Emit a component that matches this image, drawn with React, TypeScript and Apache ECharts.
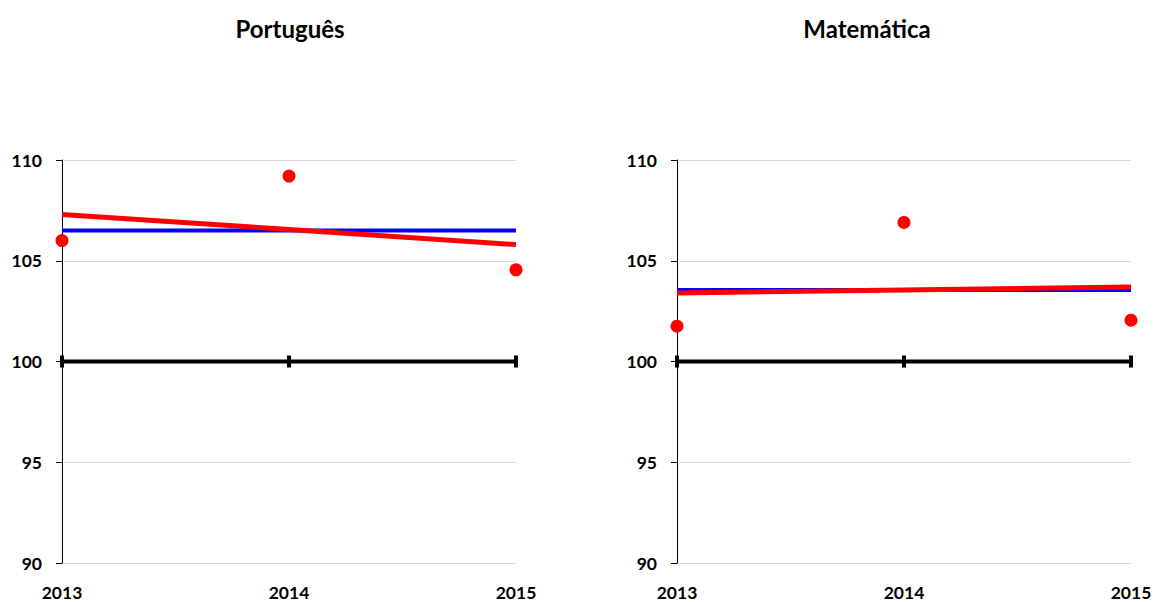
import React, { useEffect, useRef } from "react";
import * as echarts from "echarts";

const years = ["2013", "2014", "2015"];
const yTicks = [90, 95, 100, 105, 110];
const portValues = [106.0, 109.2, 104.55];
const portMean = [106.5, 106.5, 106.5];
const portTrend = [107.3, 106.55, 105.8];
const matValues = [101.75, 106.9, 102.05];
const matMean = [103.55, 103.55, 103.55];
const matTrend = [103.4, 103.55, 103.7];
const baseline = [100, 100, 100];
const titles = ["Português", "Matemática"];

const FONT = "Lato, 'Open Sans', sans-serif";

export default function App() {
  const ref = useRef<HTMLDivElement>(null);
  useEffect(() => {
    if (!ref.current) return;
    const chart = echarts.init(ref.current, null, { renderer: "svg" });
    const grids = [
      { left: 62, width: 454, top: 160, bottom: 39 },
      { left: 677, width: 454, top: 160, bottom: 39 },
    ];
    const xAxis = grids.map((_, i) => ({
      type: "category" as const,
      gridIndex: i,
      data: years,
      boundaryGap: false,
      axisLine: { show: false },
      axisTick: { show: false },
      axisLabel: { color: "#000", fontFamily: FONT, fontWeight: "bold", fontSize: 17.5, margin: 20 },
      splitLine: { show: false },
    }));
    const yAxis = grids.map((_, i) => ({
      type: "value" as const,
      gridIndex: i,
      min: yTicks[0],
      max: yTicks[yTicks.length - 1],
      interval: 5,
      axisLine: { show: true, lineStyle: { color: "#000", width: 1 } },
      axisTick: { show: true, length: 6, lineStyle: { color: "#000" } },
      axisLabel: { color: "#000", fontFamily: FONT, fontWeight: "bold", fontSize: 17.5, margin: 20 },
      splitLine: { show: true, lineStyle: { color: "#d9d9d9", width: 1 } },
    }));
    const sets = [
      { values: portValues, mean: portMean, trend: portTrend },
      { values: matValues, mean: matMean, trend: matTrend },
    ];
    const series: any[] = [];
    sets.forEach((s, i) => {
      series.push({
        type: "line",
        xAxisIndex: i,
        yAxisIndex: i,
        data: baseline,
        symbol: "rect",
        symbolSize: [4, 12],
        itemStyle: { color: "#000", opacity: 1 },
        lineStyle: { color: "#000", width: 4 },
        clip: false,
        z: 3,
      });
      series.push({
        type: "line",
        xAxisIndex: i,
        yAxisIndex: i,
        data: s.mean,
        showSymbol: false,
        lineStyle: { color: "#0000ff", width: 4 },
        z: 4,
      });
      series.push({
        type: "line",
        xAxisIndex: i,
        yAxisIndex: i,
        data: s.trend,
        showSymbol: false,
        lineStyle: { color: "#ff0000", width: 5 },
        z: 5,
      });
      series.push({
        type: "scatter",
        xAxisIndex: i,
        yAxisIndex: i,
        data: s.values,
        symbol: "circle",
        symbolSize: 13,
        itemStyle: { color: "#ff0000", opacity: 1 },
        clip: false,
        z: 6,
      });
    });
    chart.setOption({
      animation: false,
      backgroundColor: "#fff",
      title: titles.map((t, i) => ({
        text: t,
        left: i === 0 ? 285 : 862,
        top: 11,
        textAlign: "center",
        textStyle: { color: "#000", fontFamily: FONT, fontWeight: "bold", fontSize: 24 },
      })),
      grid: grids,
      xAxis,
      yAxis,
      series,
    });
    return () => chart.dispose();
  }, []);
  return <div ref={ref} style={{ width: 1155, height: 602, position: "absolute", left: 0, top: 0 }} />;
}
